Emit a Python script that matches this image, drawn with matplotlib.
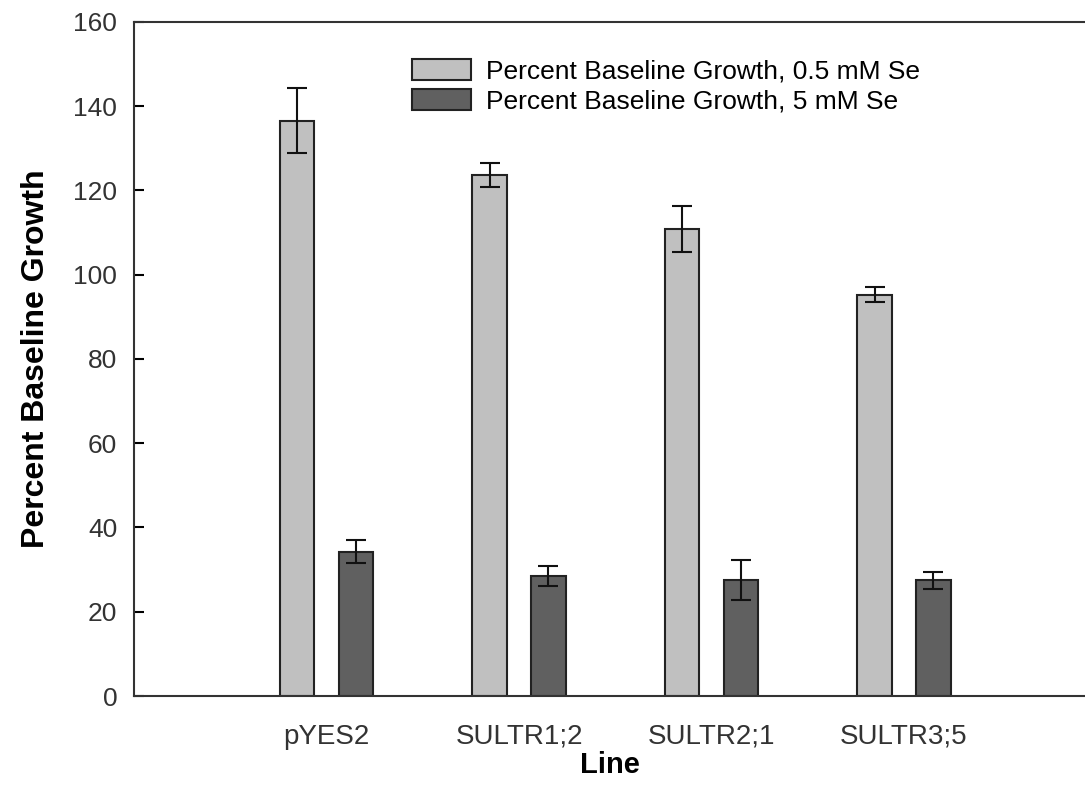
import numpy as np
import matplotlib.pyplot as plt

plt.switch_backend('Agg')
plt.rcParams['font.family'] = ['Liberation Sans', 'DejaVu Sans']

# Data
lines = ['pYES2', 'SULTR1;2', 'SULTR2;1', 'SULTR3;5']
growth_low = [136.6, 123.7, 110.8, 95.3]     # 0.5 mM Se
err_low = [7.8, 2.9, 5.4, 1.8]
growth_high = [34.3, 28.5, 27.6, 27.5]       # 5 mM Se
err_high = [2.8, 2.4, 4.8, 2.0]
yticks = [0, 20, 40, 60, 80, 100, 120, 140, 160]

x = np.arange(1, len(lines) + 1)
width = 0.18
offset = 0.153

fig = plt.figure(figsize=(10.85, 8.05), dpi=100)
ax = fig.add_axes([0.1235, 0.1354, 0.8765, 0.8373])

ax.bar(x - offset, growth_low, width, color='#c0c0c0', edgecolor='#222222',
       linewidth=1.5, label='Percent Baseline Growth, 0.5 mM Se')
ax.bar(x + offset, growth_high, width, color='#606060', edgecolor='#222222',
       linewidth=1.5, label='Percent Baseline Growth, 5 mM Se')
ax.errorbar(x - offset, growth_low, yerr=err_low, fmt='none', ecolor='#111111',
            elinewidth=1.5, capsize=7.5, capthick=1.5)
ax.errorbar(x + offset, growth_high, yerr=err_high, fmt='none', ecolor='#111111',
            elinewidth=1.5, capsize=7.5, capthick=1.5)

ax.set_xlim(0, 4.94)
ax.set_ylim(0, 160)
ax.set_yticks(yticks)
ax.set_xticks(x)
ax.set_xticklabels(lines)
ax.tick_params(axis='y', direction='in', length=7, width=1.5, labelsize=19,
               labelcolor='#333333', pad=12)
ax.tick_params(axis='x', length=0, labelsize=20, labelcolor='#333333', pad=20)

for side in ['left', 'top', 'bottom']:
    ax.spines[side].set_linewidth(1.5)
    ax.spines[side].set_color('#333333')
ax.spines['right'].set_visible(False)

ax.set_ylabel('Percent Baseline Growth', fontsize=23, fontweight='bold', labelpad=16)
ax.set_xlabel('Line', fontsize=21, fontweight='bold', labelpad=1)

ax.legend(loc='upper left', bbox_to_anchor=(0.292, 0.945), frameon=False,
          fontsize=19, handlelength=2.25, handleheight=0.85, handletextpad=0.55,
          labelspacing=0.2, borderpad=0, borderaxespad=0)

plt.savefig('out.png', dpi=100)
plt.close()
